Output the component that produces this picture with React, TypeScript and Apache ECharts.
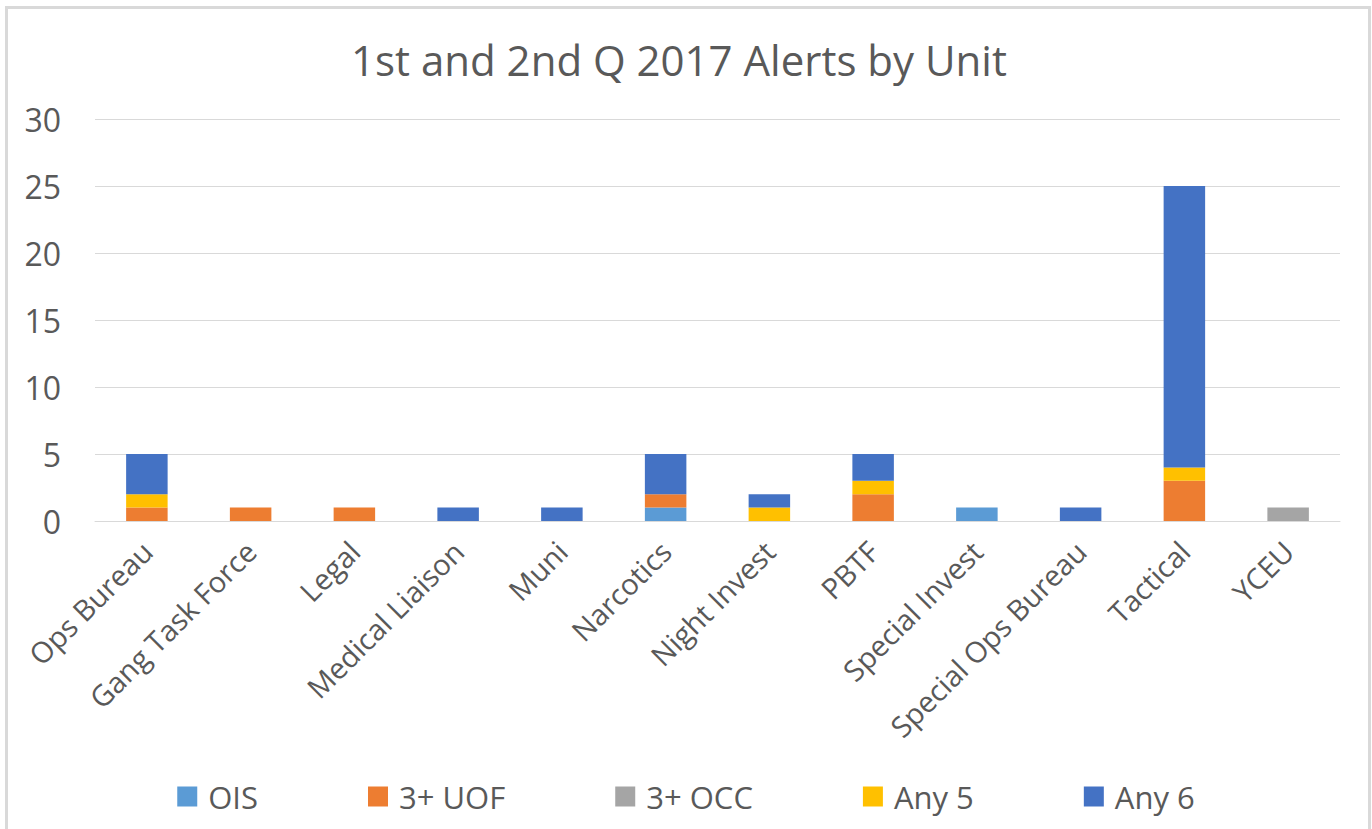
import React, { useEffect, useRef } from "react";
import * as echarts from "echarts";

const categories = [
  "Ops Bureau",
  "Gang Task Force",
  "Legal",
  "Medical Liaison",
  "Muni",
  "Narcotics",
  "Night Invest",
  "PBTF",
  "Special Invest",
  "Special Ops Bureau",
  "Tactical",
  "YCEU",
];

const ois = [0, 0, 0, 0, 0, 1, 0, 0, 1, 0, 0, 0];
const uof = [1, 1, 1, 0, 0, 1, 0, 2, 0, 0, 3, 0];
const occ = [0, 0, 0, 0, 0, 0, 0, 0, 0, 0, 0, 1];
const any5 = [1, 0, 0, 0, 0, 0, 1, 1, 0, 0, 1, 0];
const any6 = [3, 0, 0, 1, 1, 3, 1, 2, 0, 1, 21, 0];

const seriesNames = ["OIS", "3+ UOF", "3+ OCC", "Any 5", "Any 6"];
const seriesColors = ["#5B9BD5", "#ED7D31", "#A5A5A5", "#FFC000", "#4472C4"];
const seriesData = [ois, uof, occ, any5, any6];

const yTicks = { min: 0, max: 30, interval: 5 };

const FONT = "'Open Sans', 'Noto Sans', sans-serif";
const TEXT = "#595959";

export default function App() {
  const ref = useRef<HTMLDivElement>(null);

  useEffect(() => {
    if (!ref.current) return;
    const chart = echarts.init(ref.current, null, { renderer: "svg" });
    chart.setOption({
      animation: false,
      backgroundColor: "#ffffff",
      title: {
        text: "1st and 2nd Q 2017 Alerts by Unit",
        left: 346,
        top: 33,
        textStyle: {
          fontFamily: FONT,
          fontSize: 42,
          fontWeight: "normal",
          color: TEXT,
        },
      },
      graphic: [
        {
          type: "rect",
          shape: { x: 6.5, y: 7.5, width: 1363, height: 900 },
          style: { fill: "none", stroke: "#D9D9D9", lineWidth: 3 },
          silent: true,
        },
      ],
      legend: {
        bottom: 12,
        left: "center",
        itemWidth: 20,
        itemHeight: 20,
        itemGap: 110,
        icon: "rect",
        data: seriesNames,
        textStyle: {
          fontFamily: FONT,
          fontSize: 31,
          color: TEXT,
          padding: [0, 0, 0, 6],
          lineHeight: 20,
        },
      },
      grid: {
        left: 95,
        right: 32,
        top: 119,
        bottom: 308,
        outerBoundsMode: "none",
        containLabel: false,
      },
      xAxis: {
        type: "category",
        data: categories,
        axisLine: { lineStyle: { color: "#D9D9D9", width: 1 } },
        axisTick: { show: false },
        axisLabel: {
          rotate: 45,
          interval: 0,
          margin: 25,
          fontFamily: FONT,
          fontSize: 29,
          color: TEXT,
        },
      },
      yAxis: {
        type: "value",
        min: yTicks.min,
        max: yTicks.max,
        interval: yTicks.interval,
        axisLine: { show: false },
        axisTick: { show: false },
        splitLine: { lineStyle: { color: "#D9D9D9", width: 1 } },
        axisLabel: {
          margin: 34,
          fontFamily: FONT,
          fontSize: 32,
          color: TEXT,
        },
      },
      series: seriesNames.map((name, i) => ({
        name,
        type: "bar",
        stack: "total",
        barWidth: "40%",
        data: seriesData[i],
        itemStyle: { color: seriesColors[i] },
      })),
    });
    return () => chart.dispose();
  }, []);

  return (
    <div
      ref={ref}
      style={{ position: "fixed", left: 0, top: 0, width: 1372, height: 829 }}
    />
  );
}
